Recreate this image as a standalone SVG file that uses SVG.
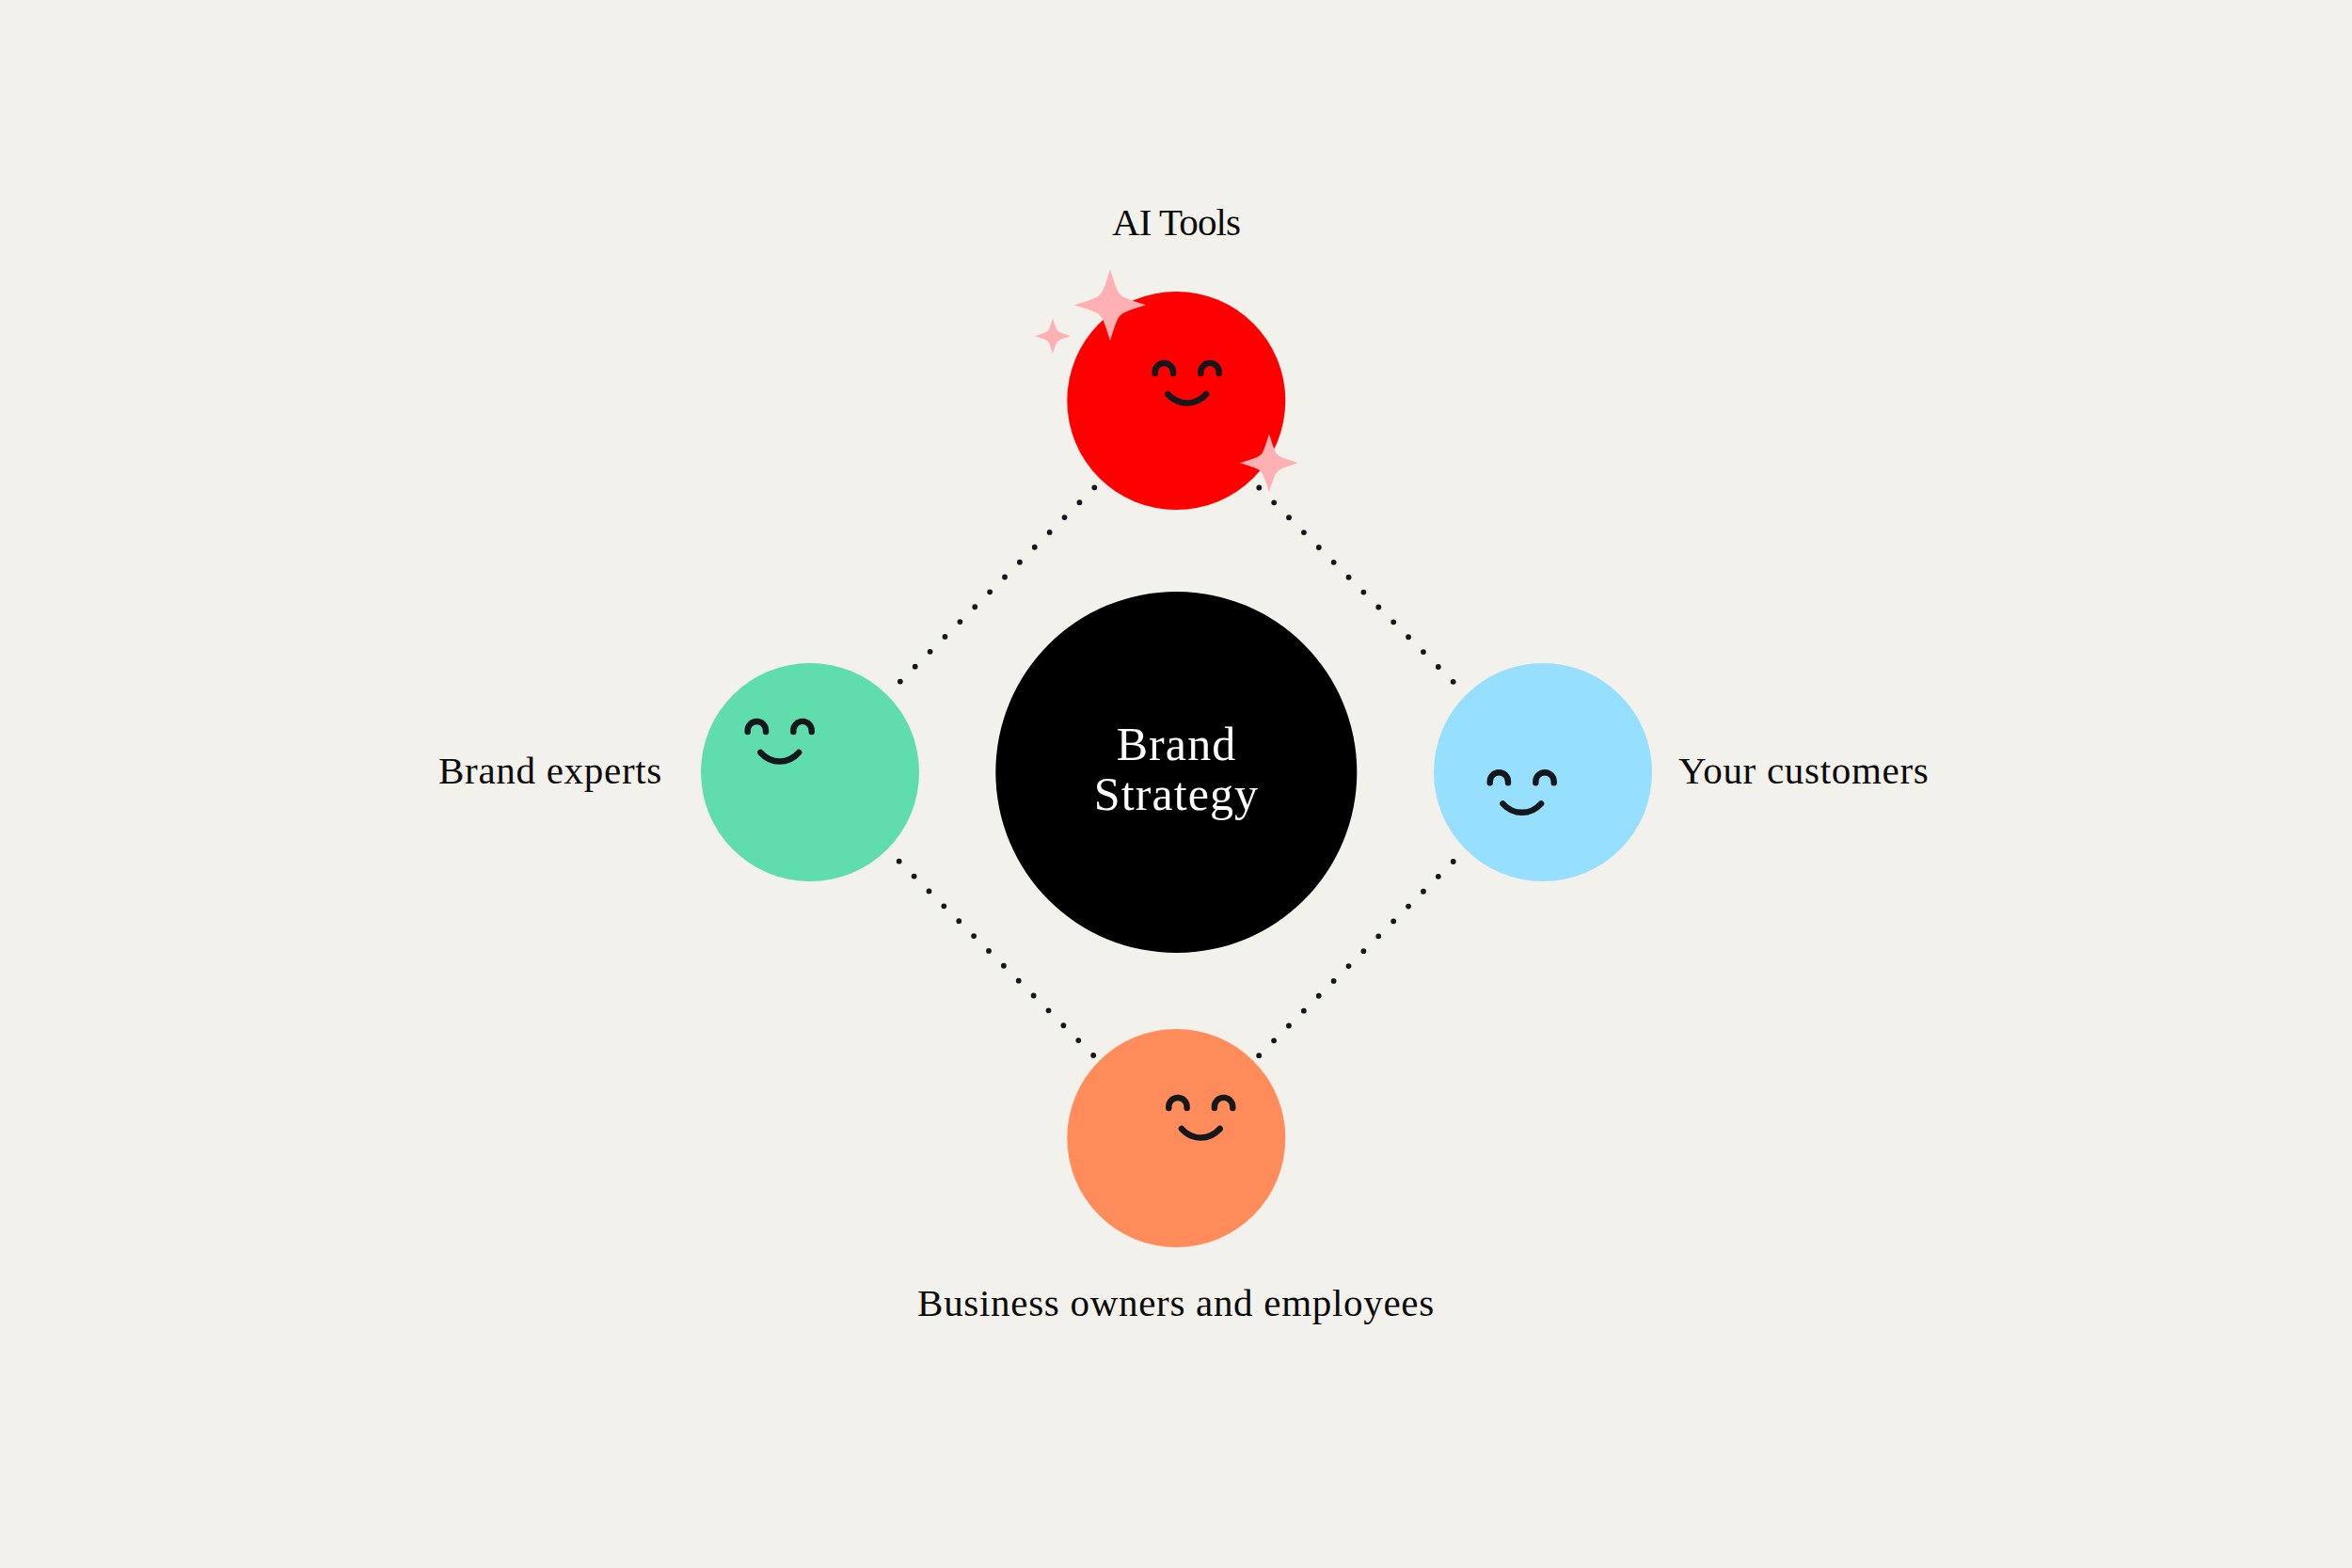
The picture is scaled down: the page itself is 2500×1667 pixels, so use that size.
<svg xmlns="http://www.w3.org/2000/svg" width="2500" height="1667" viewBox="0 0 2500 1667">
<style>
.label{font-family:"Liberation Serif",serif;font-size:41px;letter-spacing:.7px;fill:#0b0b0b}
.center{font-family:"Liberation Serif",serif;font-size:50px;letter-spacing:1.1px;fill:#fff;text-anchor:middle}
.dots{fill:none;stroke:#14171c;stroke-width:5.8;stroke-linecap:round;stroke-dasharray:0 22.45}
.face{fill:none;stroke:#14171c;stroke-width:6.4;stroke-linecap:round}
.spark{fill:#ffb0b2}
</style>
<defs>
<path id="smile" d="M-34 -22V-23.4A9.65 9.65 0 0 1 -14.7 -23.4V-22M14.6 -22V-23.4A9.65 9.65 0 0 1 34 -23.4V-22M-20.4 0C-9 12.7 9 12.7 20.4 0"/>
<path id="star" d="M0 -38C2.5 -30 5.5 -20 8.5 -14Q10 -11 14 -8.5C20 -5.5 30 -2.5 38 0C30 2.5 20 5.5 14 8.5Q10 11 8.5 14C5.5 20 2.5 30 0 38C-2.5 30 -5.5 20 -8.5 14Q-10 11 -14 8.5C-20 5.5 -30 2.5 -38 0C-30 -2.5 -20 -5.5 -14 -8.5Q-10 -11 -8.5 -14C-5.5 -20 -2.5 -30 0 -38Z"/>
</defs>
<rect width="2500" height="1667" fill="#f3f1ec"/>
<g id="connectors" class="dots">
<path d="M1163.3 518.3L956.4 725"/>
<path d="M1338.3 518.5L1544.8 725"/>
<path d="M955.7 915.7L1162.8 1122.6"/>
<path d="M1544.7 916L1337.3 1123.1"/>
</g>
<g id="center-node"><circle cx="1250.3" cy="821" r="192" fill="#000"/><text class="center" x="1250.5" y="808">Brand</text><text class="center" x="1250.5" y="861">Strategy</text></g>
<g id="ai-tools"><circle cx="1250.3" cy="426" r="116" fill="#f00"/><use href="#smile" x="1261.7" y="419" class="face"/>
<use href="#star" class="spark" transform="translate(1180 324.3)"/><use href="#star" class="spark" transform="translate(1119 357.3) scale(.5)"/><use href="#star" class="spark" transform="translate(1349 492.3) scale(.815)"/>
<text class="label" x="1250" y="249.5" text-anchor="middle" style="letter-spacing:-.9px">AI Tools</text></g>
<g id="brand-experts"><circle cx="861" cy="821" r="116" fill="#5fddad"/><use href="#smile" x="828.7" y="800" class="face"/><text class="label" x="704" y="832.5" text-anchor="end">Brand experts</text></g>
<g id="your-customers"><circle cx="1640" cy="821" r="116" fill="#97dfff"/><use href="#smile" x="1617.7" y="854.3" class="face"/><text class="label" x="1784" y="832.5">Your customers</text></g>
<g id="business-owners"><circle cx="1250.3" cy="1210" r="116" fill="#ff8c5a"/><use href="#smile" x="1276.3" y="1200" class="face"/><text class="label" x="1250" y="1399" text-anchor="middle">Business owners and employees</text></g>
</svg>
